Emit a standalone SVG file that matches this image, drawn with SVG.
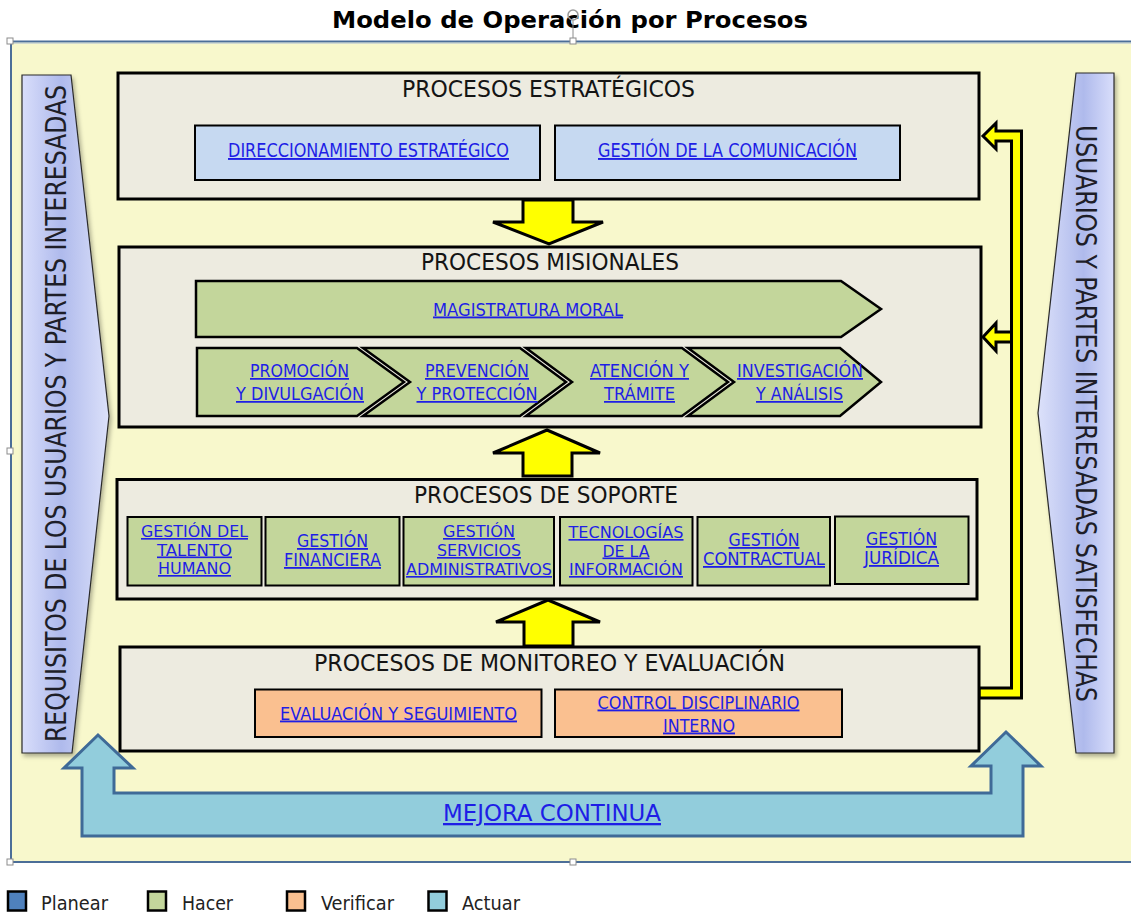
<svg xmlns="http://www.w3.org/2000/svg" width="1131" height="915" viewBox="0 0 1131 915">
  <style>
    .box { fill: #EDEBE0; stroke: #000; stroke-width: 3; }
    .sub { stroke: #000; stroke-width: 2; }
    .blue { fill: #C6D9F1; }
    .green { fill: #C3D69B; }
    .peach { fill: #FAC090; }
    .chev { fill: #C3D69B; stroke: #000; stroke-width: 2.5; stroke-linejoin: miter; }
    .yel { fill: #FFFF00; stroke: #000; stroke-width: 3; stroke-linejoin: miter; }
    .hdr { font-family: "DejaVu Sans Condensed", "DejaVu Sans", sans-serif; font-size: 22.5px; fill: #141414; text-anchor: middle; }
    .lnk { font-family: "DejaVu Sans Condensed", "DejaVu Sans", sans-serif; font-size: 18px; fill: #1E1EE6; text-anchor: middle; text-decoration: underline; }
    .tight { font-size: 16.5px; }
    .side { font-family: "DejaVu Sans Condensed", "DejaVu Sans", sans-serif; font-size: 27.5px; fill: #1E1E28; text-anchor: middle; }
    .leg { font-family: "DejaVu Sans Condensed", "DejaVu Sans", sans-serif; font-size: 19px; fill: #222; }
    .legbox { stroke: #000; stroke-width: 2.5; }
    .handle { fill: #fff; stroke: #8C8C8C; stroke-width: 1; }
  </style>
  <defs>
    <linearGradient id="sideL" x1="0" y1="0" x2="1" y2="0">
      <stop offset="0" stop-color="#D9DEFB"/>
      <stop offset="0.45" stop-color="#AFBAEC"/>
      <stop offset="1" stop-color="#DCE1FA"/>
    </linearGradient>
    <linearGradient id="sideR" x1="0" y1="0" x2="1" y2="0">
      <stop offset="0" stop-color="#DCE1FA"/>
      <stop offset="0.6" stop-color="#AFBAEC"/>
      <stop offset="1" stop-color="#D9DEFB"/>
    </linearGradient>
    <filter id="shadow" x="-20%" y="-5%" width="150%" height="115%">
      <feDropShadow dx="2" dy="3" stdDeviation="2" flood-color="#000" flood-opacity="0.3"/>
    </filter>
  </defs>

  <rect width="1131" height="915" fill="#FFFFFF"/>

  <!-- title -->
  <text x="570" y="28" font-family="'DejaVu Sans', sans-serif" font-weight="bold" font-size="23" fill="#000" text-anchor="middle" textLength="476" lengthAdjust="spacingAndGlyphs">Modelo de Operación por Procesos</text>

  <!-- background panel -->
  <rect x="11" y="41.5" width="1135" height="820.5" fill="#F8F8CC" stroke="#4C6E98" stroke-width="2"/>
  <line x1="12.5" y1="43" x2="1131" y2="43" stroke="#A9BCD3" stroke-width="1"/>

  <!-- side banners -->
  <g id="requisitos">
    <polygon points="22,75 71,75 109,416 72,753 22,753" fill="url(#sideL)" stroke="#2A2A2A" stroke-width="1.2" filter="url(#shadow)"/>
    <text class="side" transform="translate(66,413.5) rotate(-90)" textLength="657" lengthAdjust="spacingAndGlyphs">REQUISITOS DE LOS USUARIOS Y PARTES INTERESADAS</text>
  </g>
  <g id="satisfechas">
    <polygon points="1076,73 1114,73 1114,753 1076,753 1038,413" fill="url(#sideR)" stroke="#2A2A2A" stroke-width="1.2" filter="url(#shadow)"/>
    <text class="side" transform="translate(1076,413.5) rotate(90)" textLength="577" lengthAdjust="spacingAndGlyphs">USUARIOS Y PARTES INTERESADAS SATISFECHAS</text>
  </g>

  <!-- connectors -->
  <g id="connectors">
    <!-- strategic to misional -->
    <polygon class="yel" points="523,200 573,200 573,222 603,222 549,244 493,222 523,222"/>
    <!-- support to misional -->
    <polygon class="yel" points="523,476 523,453 493,453 547,430 600,453 572,453 572,476"/>
    <!-- monitoring to support -->
    <polygon class="yel" points="524,646 524,622 496,622 548,600 600,622 573,622 573,646"/>
    <!-- feedback loop on the right -->
    <polygon class="yel" points="979,698 1021.5,698 1021.5,131 996,131 996,123 983,136 996,149 996,141 1011.5,141 1011.5,688 979,688"/>
    <polygon class="yel" points="983,337 996,323 996,332 1011.5,332 1011.5,342 996,342 996,351"/>
    <!-- continual improvement loop -->
    <polygon points="98,735 133,768 114,768 114,793 991,793 991,766 971,766 1006,732 1041,766 1023,766 1023,836 82,836 82,768 64,768" fill="#92CDDC" stroke="#3F6A97" stroke-width="3" stroke-linejoin="miter"/>
    <text class="lnk" x="552" y="821" style="font-size:23px" textLength="218" lengthAdjust="spacingAndGlyphs">MEJORA CONTINUA</text>
  </g>

  <!-- strategic processes -->
  <g id="estrategicos">
    <rect class="box" x="118" y="73" width="861" height="126"/>
    <text class="hdr" x="548.5" y="97" textLength="293" lengthAdjust="spacingAndGlyphs">PROCESOS ESTRATÉGICOS</text>
    <g id="direccionamiento">
      <rect class="sub blue" x="195" y="125.5" width="345" height="54.5"/>
      <text class="lnk" x="368.5" y="157" style="font-size:19px" textLength="281" lengthAdjust="spacingAndGlyphs">DIRECCIONAMIENTO ESTRATÉGICO</text>
    </g>
    <g id="comunicacion">
      <rect class="sub blue" x="555" y="125.5" width="345" height="54.5"/>
      <text class="lnk" x="727.5" y="157" style="font-size:19px" textLength="259" lengthAdjust="spacingAndGlyphs">GESTIÓN DE LA COMUNICACIÓN</text>
    </g>
  </g>

  <!-- mission processes -->
  <g id="misionales">
    <rect class="box" x="119" y="247" width="862" height="180"/>
    <text class="hdr" x="550" y="270" textLength="258" lengthAdjust="spacingAndGlyphs">PROCESOS MISIONALES</text>
    <g id="magistratura">
      <polygon class="chev" points="196,281 841,281 881,309 841,337 196,337"/>
      <text class="lnk" x="528" y="315.5" style="font-size:18.5px" textLength="190" lengthAdjust="spacingAndGlyphs">MAGISTRATURA MORAL</text>
    </g>
    <g id="promocion">
      <polygon class="chev" points="197,348 357,348 404,382 357,416 197,416"/>
      <text class="lnk" x="299.5" y="377" style="font-size:17.5px" textLength="99" lengthAdjust="spacingAndGlyphs">PROMOCIÓN</text>
      <text class="lnk" x="300" y="400" style="font-size:17.5px" textLength="128" lengthAdjust="spacingAndGlyphs">Y DIVULGACIÓN</text>
    </g>
    <g id="prevencion">
      <polygon class="chev" points="363,348 520,348 566,382 520,416 363,416 410,382"/>
      <text class="lnk" x="477" y="377" style="font-size:17.5px" textLength="104" lengthAdjust="spacingAndGlyphs">PREVENCIÓN</text>
      <text class="lnk" x="477" y="400" style="font-size:17.5px" textLength="121" lengthAdjust="spacingAndGlyphs">Y PROTECCIÓN</text>
    </g>
    <g id="atencion">
      <polygon class="chev" points="526,348 682,348 728,382 682,416 526,416 572,382"/>
      <text class="lnk" x="639.5" y="377" style="font-size:17.5px" textLength="99" lengthAdjust="spacingAndGlyphs">ATENCIÓN Y</text>
      <text class="lnk" x="639.5" y="400" style="font-size:17.5px" textLength="71" lengthAdjust="spacingAndGlyphs">TRÁMITE</text>
    </g>
    <g id="investigacion">
      <polygon class="chev" points="688,348 840,348 881,382 840,416 688,416 734,382"/>
      <text class="lnk" x="800" y="377" style="font-size:17.5px" textLength="126" lengthAdjust="spacingAndGlyphs">INVESTIGACIÓN</text>
      <text class="lnk" x="799.5" y="400" style="font-size:17.5px" textLength="87" lengthAdjust="spacingAndGlyphs">Y ANÁLISIS</text>
    </g>
  </g>

  <!-- support processes -->
  <g id="soporte">
    <rect class="box" x="117" y="479.5" width="860" height="119.5"/>
    <text class="hdr" x="546" y="503" textLength="264" lengthAdjust="spacingAndGlyphs">PROCESOS DE SOPORTE</text>
    <g id="talento">
      <rect class="sub green" x="127.5" y="517" width="134" height="68.5"/>
      <text class="lnk tight" x="194.5" y="537" textLength="107" lengthAdjust="spacingAndGlyphs">GESTIÓN DEL</text>
      <text class="lnk tight" x="194.5" y="555.5" textLength="75" lengthAdjust="spacingAndGlyphs">TALENTO</text>
      <text class="lnk tight" x="194.5" y="574" textLength="73" lengthAdjust="spacingAndGlyphs">HUMANO</text>
    </g>
    <g id="financiera">
      <rect class="sub green" x="265.5" y="517" width="134" height="68.5"/>
      <text class="lnk" x="332.5" y="547" textLength="71" lengthAdjust="spacingAndGlyphs">GESTIÓN</text>
      <text class="lnk" x="332.5" y="566" textLength="97" lengthAdjust="spacingAndGlyphs">FINANCIERA</text>
    </g>
    <g id="administrativos">
      <rect class="sub green" x="403.5" y="517" width="150.5" height="68.5"/>
      <text class="lnk tight" x="479" y="537" textLength="72" lengthAdjust="spacingAndGlyphs">GESTIÓN</text>
      <text class="lnk tight" x="479" y="556" textLength="84" lengthAdjust="spacingAndGlyphs">SERVICIOS</text>
      <text class="lnk tight" x="479" y="575" textLength="146" lengthAdjust="spacingAndGlyphs">ADMINISTRATIVOS</text>
    </g>
    <g id="tecnologias">
      <rect class="sub green" x="560" y="517" width="132.5" height="68.5"/>
      <text class="lnk tight" x="626" y="538" textLength="115" lengthAdjust="spacingAndGlyphs">TECNOLOGÍAS</text>
      <text class="lnk tight" x="626" y="556.5" textLength="47" lengthAdjust="spacingAndGlyphs">DE LA</text>
      <text class="lnk tight" x="626" y="575" textLength="114" lengthAdjust="spacingAndGlyphs">INFORMACIÓN</text>
    </g>
    <g id="contractual">
      <rect class="sub green" x="697.5" y="517" width="132.5" height="68.5"/>
      <text class="lnk" x="764" y="546" textLength="71" lengthAdjust="spacingAndGlyphs">GESTIÓN</text>
      <text class="lnk" x="764" y="565" textLength="122" lengthAdjust="spacingAndGlyphs">CONTRACTUAL</text>
    </g>
    <g id="juridica">
      <rect class="sub green" x="835" y="516.5" width="133.5" height="67.5"/>
      <text class="lnk" x="901.5" y="545" textLength="71" lengthAdjust="spacingAndGlyphs">GESTIÓN</text>
      <text class="lnk" x="901.5" y="564" textLength="75" lengthAdjust="spacingAndGlyphs">JURÍDICA</text>
    </g>
  </g>

  <!-- monitoring and evaluation processes -->
  <g id="monitoreo">
    <rect class="box" x="120" y="647" width="859" height="104"/>
    <text class="hdr" x="549.5" y="671" textLength="471" lengthAdjust="spacingAndGlyphs">PROCESOS DE MONITOREO Y EVALUACIÓN</text>
    <g id="evaluacion">
      <rect class="sub peach" x="255" y="689.5" width="286.5" height="47.5"/>
      <text class="lnk" x="398.5" y="719.5" style="font-size:18.5px" textLength="237" lengthAdjust="spacingAndGlyphs">EVALUACIÓN Y SEGUIMIENTO</text>
    </g>
    <g id="control">
      <rect class="sub peach" x="555" y="689.5" width="287" height="47.5"/>
      <text class="lnk" x="698.5" y="708.5" style="font-size:18.5px" textLength="202" lengthAdjust="spacingAndGlyphs">CONTROL DISCIPLINARIO</text>
      <text class="lnk" x="699" y="731.5" style="font-size:18.5px" textLength="72" lengthAdjust="spacingAndGlyphs">INTERNO</text>
    </g>
  </g>

  <!-- selection handles of the panel -->
  <g id="handles">
    <line x1="573" y1="20" x2="573" y2="38" stroke="#8C8C8C" stroke-width="1"/>
    <circle cx="573" cy="15" r="5" fill="none" stroke="#9A9A9A" stroke-width="1.5"/>
    <rect class="handle" x="7" y="38" width="6" height="6"/>
    <rect class="handle" x="570" y="38" width="6" height="6"/>
    <rect class="handle" x="7" y="448" width="6" height="6"/>
    <rect class="handle" x="7" y="859" width="6" height="6"/>
    <rect class="handle" x="570" y="859" width="6" height="6"/>
  </g>

  <!-- legend -->
  <g id="legend">
    <rect class="legbox" x="8" y="891.5" width="18" height="19" fill="#4F81BD"/>
    <text class="leg" x="41" y="910" textLength="67" lengthAdjust="spacingAndGlyphs">Planear</text>
    <rect class="legbox" x="148" y="891.5" width="18" height="19" fill="#C3D69B"/>
    <text class="leg" x="182" y="910" textLength="51" lengthAdjust="spacingAndGlyphs">Hacer</text>
    <rect class="legbox" x="287" y="891.5" width="18" height="19" fill="#FAC090"/>
    <text class="leg" x="321" y="910" textLength="73" lengthAdjust="spacingAndGlyphs">Verificar</text>
    <rect class="legbox" x="428.5" y="891.5" width="18" height="19" fill="#92CDDC"/>
    <text class="leg" x="462" y="910" textLength="58" lengthAdjust="spacingAndGlyphs">Actuar</text>
  </g>
</svg>
